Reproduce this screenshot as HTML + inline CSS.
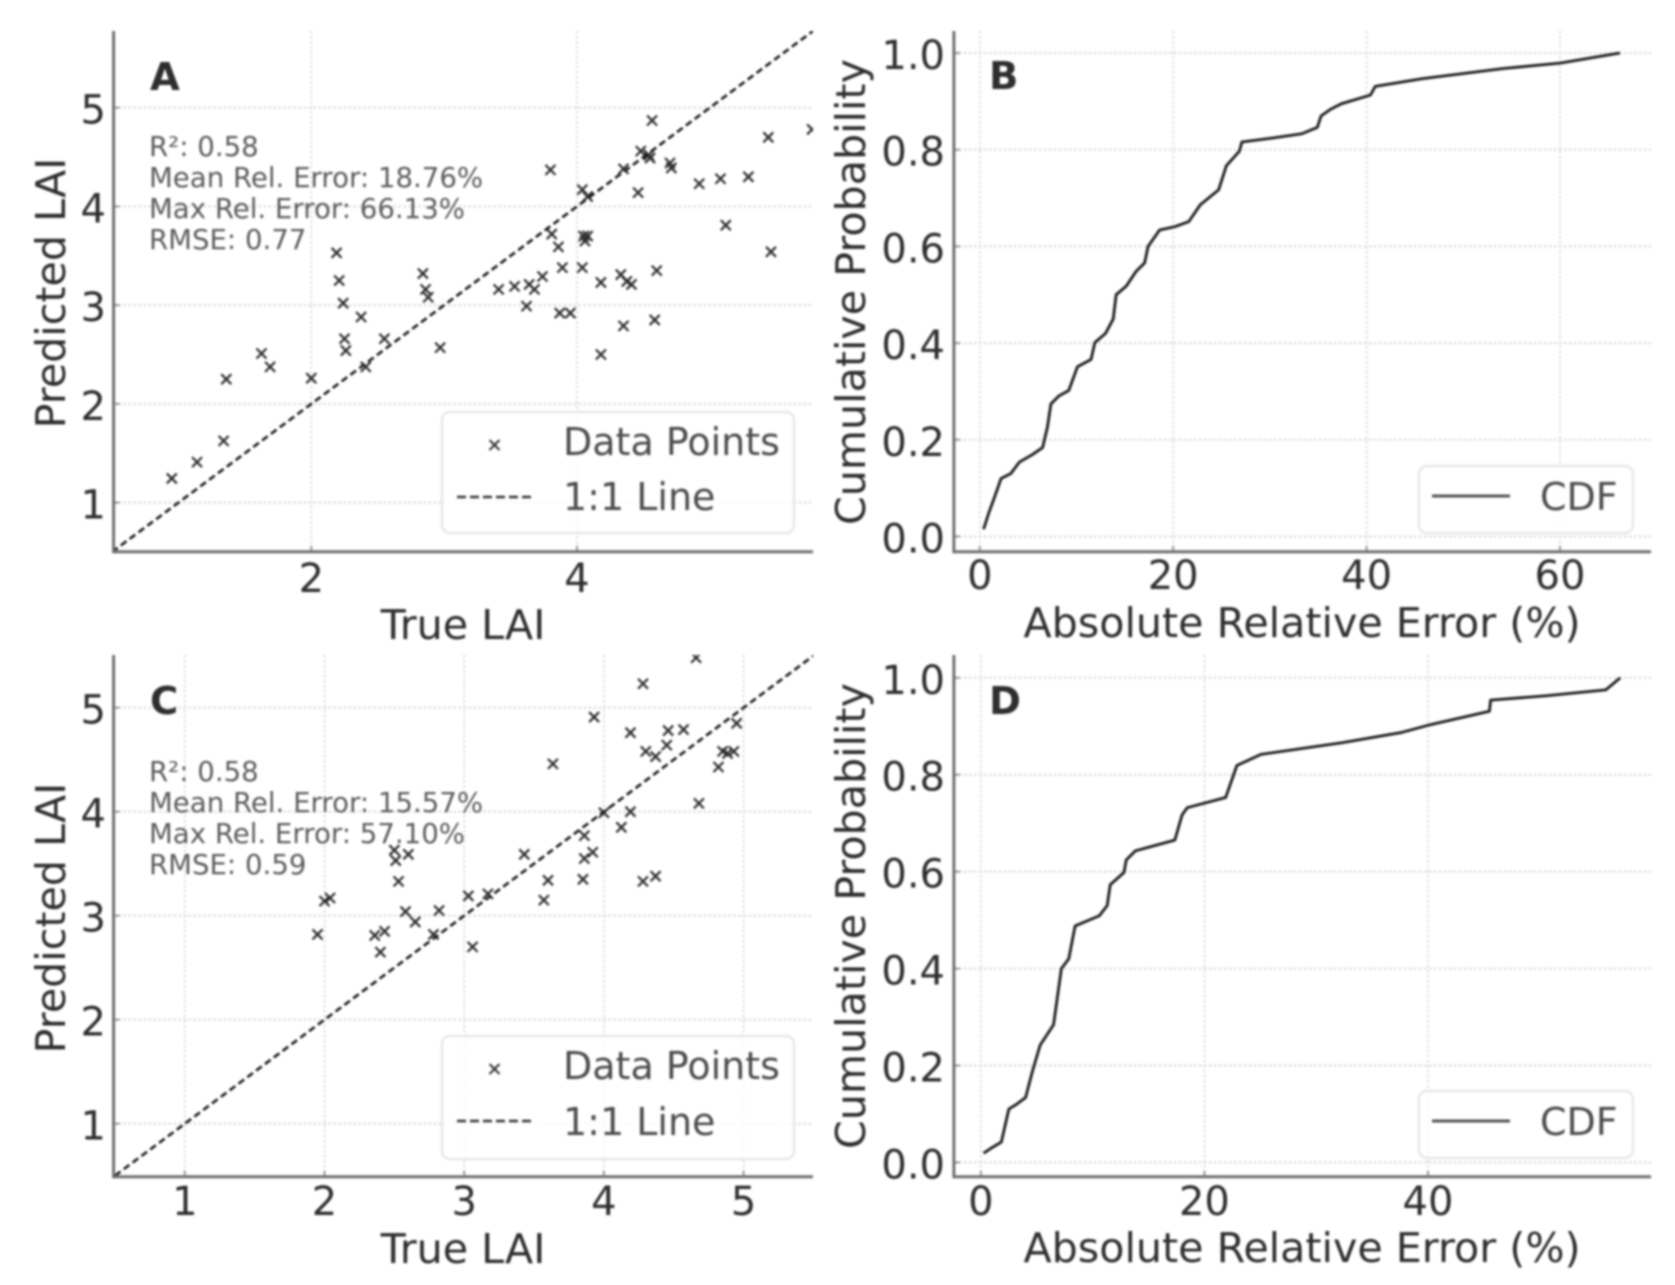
<!DOCTYPE html>
<html lang="en">
<head>
<meta charset="utf-8">
<title>LAI prediction scatter and CDF panels</title>
<style>
html,body{margin:0;padding:0;background:#fff;width:1675px;height:1285px;overflow:hidden}
svg{display:block;filter:blur(1px)}
text{font-family:"DejaVu Sans","Liberation Sans",sans-serif}
.axis-label{font-size:41.2px;fill:#2e2e2e}
.tick-label{font-size:40px;fill:#2e2e2e}
.note{font-size:27.6px;fill:#5c5c5c}
.letter{font-size:38.5px;font-weight:bold;fill:#2e2e2e}
.legend-text{font-size:38px;fill:#4c4c4c}
.legend-box{fill:#fff;fill-opacity:.8;stroke:#e8e8e8;stroke-width:2.5}
</style>
</head>
<body>
<svg id="figure" xmlns="http://www.w3.org/2000/svg" width="1675" height="1285" viewBox="0 0 1675 1285">
  <rect width="1675" height="1285" fill="#fff"/>
  <defs>
    <clipPath id="clip-a"><rect x="114" y="31" width="699" height="521"/></clipPath>
    <clipPath id="clip-b"><rect x="954" y="31" width="697" height="521"/></clipPath>
    <clipPath id="clip-c"><rect x="114" y="655" width="699" height="522"/></clipPath>
    <clipPath id="clip-d"><rect x="954" y="655" width="697" height="522"/></clipPath>
  </defs>
  <g id="panel-a"></g>
  <g id="panel-b"></g>
  <g id="panel-c"></g>
  <g id="panel-d"></g>

  <g>
    <text class="letter" x="150" y="90">A</text>
    <text class="note" x="149" y="156">R²: 0.58</text>
    <text class="note" x="149" y="187">Mean Rel. Error: 18.76%</text>
    <text class="note" x="149" y="218">Max Rel. Error: 66.13%</text>
    <text class="note" x="149" y="249">RMSE: 0.77</text>
    <text class="axis-label" x="463" y="639" text-anchor="middle">True LAI</text>
    <text class="axis-label" x="65" y="293" text-anchor="middle" transform="rotate(-90 65 293)">Predicted LAI</text>
  </g>
  <g>
    <rect class="legend-box" x="442" y="412" width="352" height="121" rx="8"/>
    <path d="M489.5 440L499.5 450M499.5 440L489.5 450" stroke="#333" stroke-width="2" fill="none"/>
    <line x1="457" y1="497" x2="534" y2="497" stroke="#333" stroke-width="2.6" stroke-dasharray="9 4"/>
    <text class="legend-text" x="563" y="455">Data Points</text>
    <text class="legend-text" x="563" y="510">1:1 Line</text>
  </g>

  <g>
    <text class="letter" x="989" y="89">B</text>
    <text class="axis-label" x="1302" y="637" text-anchor="middle">Absolute Relative Error (%)</text>
    <text class="axis-label" x="865" y="292" text-anchor="middle" transform="rotate(-90 865 292)">Cumulative Probability</text>
  </g>
  <g>
    <rect class="legend-box" x="1419" y="466" width="214" height="67" rx="8"/>
    <line x1="1432" y1="496" x2="1510" y2="496" stroke="#555" stroke-width="3"/>
    <text class="legend-text" x="1540" y="510">CDF</text>
  </g>

  <g>
    <text class="letter" x="150" y="714">C</text>
    <text class="note" x="149" y="781">R²: 0.58</text>
    <text class="note" x="149" y="812">Mean Rel. Error: 15.57%</text>
    <text class="note" x="149" y="843">Max Rel. Error: 57.10%</text>
    <text class="note" x="149" y="874">RMSE: 0.59</text>
    <text class="axis-label" x="463" y="1263" text-anchor="middle">True LAI</text>
    <text class="axis-label" x="65" y="918" text-anchor="middle" transform="rotate(-90 65 918)">Predicted LAI</text>
  </g>
  <g>
    <rect class="legend-box" x="442" y="1036" width="352" height="123" rx="8"/>
    <path d="M489.5 1064L499.5 1074M499.5 1064L489.5 1074" stroke="#333" stroke-width="2" fill="none"/>
    <line x1="457" y1="1121" x2="534" y2="1121" stroke="#333" stroke-width="2.6" stroke-dasharray="9 4"/>
    <text class="legend-text" x="563" y="1079">Data Points</text>
    <text class="legend-text" x="563" y="1135">1:1 Line</text>
  </g>

  <g>
    <text class="letter" x="989" y="714">D</text>
    <text class="axis-label" x="1302" y="1262" text-anchor="middle">Absolute Relative Error (%)</text>
    <text class="axis-label" x="865" y="916" text-anchor="middle" transform="rotate(-90 865 916)">Cumulative Probability</text>
  </g>
  <g>
    <rect class="legend-box" x="1419" y="1091" width="214" height="67" rx="8"/>
    <line x1="1432" y1="1121" x2="1510" y2="1121" stroke="#555" stroke-width="3"/>
    <text class="legend-text" x="1540" y="1135">CDF</text>
  </g>
</svg>

<script>
/* ---------- chart data ---------- */
const panelATrue = [4.565,5.77,5.44,4.48,4.54,4.55,4.70,4.71,3.80,4.35,4.92,5.08,5.29,4.46,4.04,4.08,5.12,5.46,3.81,3.86,4.05,4.08,4.06,2.19,2.21,2.24,2.375,2.84,2.86,2.88,3.41,3.53,3.64,3.68,3.74,3.89,4.04,4.18,4.33,4.375,4.41,4.60,3.62,3.87,3.95,4.35,4.585,4.18,2.97,2.25,2.26,2.55,2.41,1.625,1.69,2.0,1.36,1.34,1.14,0.95];
const panelAPred = [4.87,4.78,4.70,4.56,4.52,4.49,4.44,4.39,4.37,4.38,4.23,4.28,4.30,4.14,4.17,4.10,3.81,3.54,3.72,3.59,3.70,3.70,3.65,3.53,3.25,3.02,2.88,3.32,3.16,3.08,3.16,3.19,3.21,3.16,3.29,3.38,3.38,3.23,3.31,3.24,3.21,3.35,2.99,2.92,2.92,2.79,2.85,2.50,2.57,2.66,2.54,2.66,2.375,2.51,2.375,2.26,2.25,1.625,1.41,1.245];

const panelCTrue = [4.66,4.28,3.93,4.19,4.46,4.57,4.95,4.45,4.30,4.37,4.85,4.885,4.93,4.82,3.635,4.68,4.00,4.19,4.125,3.86,3.43,3.92,3.86,2.50,2.51,2.60,2.53,3.60,3.85,4.28,4.37,3.03,3.17,3.57,2.04,2.00,2.58,2.82,2.65,1.95,2.36,2.43,2.78,3.06,2.40];
const panelCPred = [5.48,5.23,4.91,4.76,4.78,4.79,4.85,4.64,4.58,4.53,4.58,4.56,4.58,4.43,4.46,4.08,3.99,4.00,3.85,3.77,3.59,3.61,3.55,3.63,3.53,3.59,3.33,3.34,3.35,3.33,3.38,3.19,3.21,3.15,3.17,3.14,3.04,3.05,2.94,2.82,2.81,2.85,2.82,2.70,2.65];

const panelBError = [0.39,0.95,1.5,2.2,3.2,4.1,5.4,6.5,7.0,7.35,8.2,9.2,10.1,11.5,11.9,13.0,13.8,14.1,15.15,16.15,17.05,17.4,18.6,20.2,21.6,22.8,24.7,25.5,26.85,27.1,30.2,33.3,34.9,35.3,36.3,37.4,40.4,40.9,45.8,54.15,60,66.2];
const panelBProb = [0.015,0.05,0.08,0.12,0.13,0.154,0.169,0.184,0.227,0.274,0.291,0.302,0.351,0.366,0.401,0.42,0.45,0.50,0.518,0.548,0.566,0.60,0.634,0.641,0.651,0.686,0.717,0.767,0.797,0.816,0.824,0.833,0.846,0.87,0.884,0.895,0.913,0.931,0.947,0.968,0.979,1.0];

const panelDError = [0.24,0.96,1.83,2.5,3.13,4.0,4.6,5.3,6.5,7.2,7.86,8.43,10.6,11.3,11.57,12.8,13.0,13.83,17.35,18.0,18.46,21.9,22.9,25.06,32.3,37.6,40,45.5,45.6,50.6,55.9,57.2];
const panelDProb = [0.019,0.03,0.042,0.11,0.119,0.134,0.187,0.242,0.284,0.40,0.42,0.488,0.509,0.53,0.573,0.598,0.624,0.643,0.665,0.717,0.732,0.753,0.819,0.842,0.866,0.887,0.902,0.931,0.954,0.963,0.975,1.0];

const panelAXTicks = [2,4];
const panelAYTicks = [1,2,3,4,5];
const panelCXTicks = [1,2,3,4,5];
const panelCYTicks = [1,2,3,4,5];
const panelBXTicks = [0,20,40,60];
const panelDXTicks = [0,20,40];
const cdfYTicks = [0,0.2,0.4,0.6,0.8,1.0];
const panelAIdentity = [0.5,5.78];
const panelCIdentity = [0.5,5.5];

/* ---------- drawing ---------- */
const NS = 'http://www.w3.org/2000/svg';
function make(tag, parent, attrs){
  const el = document.createElementNS(NS, tag);
  for (const k in attrs) el.setAttribute(k, attrs[k]);
  parent.appendChild(el);
  return el;
}
function linear(v0, p0, v1, p1){
  return function(v){ return p0 + (v - v0) * (p1 - p0) / (v1 - v0); };
}
function drawFrame(g, fr, sx, sy, xTicks, yTicks, yFmt){
  xTicks.forEach(function(t){
    const gl = make('line', g, {x1:sx(t), x2:sx(t), y1:fr.top, y2:fr.bottom, stroke:'#dcdcdc', 'stroke-width':1.8, 'stroke-dasharray':'2.5 2.5'});
    
    
    const tm = make('line', g, {x1:sx(t), x2:sx(t), y1:fr.bottom - 6, y2:fr.bottom, stroke:'#999', 'stroke-width':2});
    
    
    const tl = make('text', g, {x:sx(t), y:fr.xLabelY, 'text-anchor':'middle', 'class':'tick-label'});
    tl.textContent = String(t);
    
    
  });
  yTicks.forEach(function(t){
    const gl = make('line', g, {x1:fr.left, x2:fr.right, y1:sy(t), y2:sy(t), stroke:'#dcdcdc', 'stroke-width':2.2, 'stroke-dasharray':'2.5 2.5'});
    
    
    const tm = make('line', g, {x1:fr.left, x2:fr.left + 6, y1:sy(t), y2:sy(t), stroke:'#999', 'stroke-width':2});
    
    
    const tl = make('text', g, {x:fr.yLabelX, y:sy(t) + 16, 'text-anchor':'end', 'class':'tick-label'});
    tl.textContent = yFmt(t);
    
    
  });
}
function drawSpines(g, fr){
  const l = make('line', g, {x1:fr.left, x2:fr.left, y1:fr.top, y2:fr.bottom + 1.5, stroke:'#6f6f6f', 'stroke-width':3});
  
  
  const b = make('line', g, {x1:fr.left, x2:fr.right, y1:fr.bottom, y2:fr.bottom, stroke:'#6f6f6f', 'stroke-width':3});
  
  
}
function drawScatter(g, fr, sx, sy, xs, ys, identity, clip){
  const plot = make('g', g, {'clip-path':'url(#' + clip + ')'});
  
  
  xs.forEach(function(v, i){
    const cx = sx(v), cy = sy(ys[i]), r = 5;
    const m = make('path', plot, {d:'M'+(cx-r)+' '+(cy-r)+'L'+(cx+r)+' '+(cy+r)+'M'+(cx+r)+' '+(cy-r)+'L'+(cx-r)+' '+(cy+r), stroke:'#2e2e2e', 'stroke-width':2.2, fill:'none'});
    
    
  });
  const line = make('line', plot, {x1:sx(identity[0]), y1:sy(identity[0]), x2:sx(identity[1]), y2:sy(identity[1]), stroke:'#1c1c1c', 'stroke-width':2.6, 'stroke-dasharray':'7 4'});
  
  
}
function drawCdf(g, sx, sy, xs, ys, clip){
  let d = '';
  xs.forEach(function(v, i){ d += (i ? 'L' : 'M') + sx(v) + ' ' + sy(ys[i]); });
  const p = make('path', g, {d:d, fill:'none', stroke:'#1c1c1c', 'stroke-width':2.8, 'stroke-linejoin':'round', 'clip-path':'url(#' + clip + ')'});
  
  
}
const fmtInt = function(t){ return String(t); };
const fmtOne = function(t){ return t.toFixed(1); };

(function(){
  const gA = document.getElementById('panel-a');
  const frA = {left:113.6, right:813, top:31, bottom:551.7, xLabelY:592, yLabelX:106};
  const xA = linear(2, 311.3, 4, 577);
  const yA = linear(5, 107.7, 1, 502.6);
  drawFrame(gA, frA, xA, yA, panelAXTicks, panelAYTicks, fmtInt);
  drawScatter(gA, frA, xA, yA, panelATrue, panelAPred, panelAIdentity, 'clip-a');
  drawSpines(gA, frA);

  const gC = document.getElementById('panel-c');
  const frC = {left:113.6, right:813, top:655, bottom:1176.7, xLabelY:1215, yLabelX:106};
  const xC = linear(1, 184.8, 5, 743.6);
  const yC = linear(5, 707.7, 1, 1123.7);
  drawFrame(gC, frC, xC, yC, panelCXTicks, panelCYTicks, fmtInt);
  drawScatter(gC, frC, xC, yC, panelCTrue, panelCPred, panelCIdentity, 'clip-c');
  drawSpines(gC, frC);

  const gB = document.getElementById('panel-b');
  const frB = {left:953.9, right:1651, top:31, bottom:551.7, xLabelY:589, yLabelX:945};
  const xB = linear(0, 979.8, 60, 1560);
  const yB = linear(1, 53, 0, 536.5);
  drawFrame(gB, frB, xB, yB, panelBXTicks, cdfYTicks, fmtOne);
  drawCdf(gB, xB, yB, panelBError, panelBProb, 'clip-b');
  drawSpines(gB, frB);

  const gD = document.getElementById('panel-d');
  const frD = {left:953.9, right:1651, top:655, bottom:1176.7, xLabelY:1215, yLabelX:945};
  const xD = linear(0, 980.9, 40, 1428);
  const yD = linear(1, 677.8, 0, 1162.4);
  drawFrame(gD, frD, xD, yD, panelDXTicks, cdfYTicks, fmtOne);
  drawCdf(gD, xD, yD, panelDError, panelDProb, 'clip-d');
  drawSpines(gD, frD);
})();
</script>
</body>
</html>
